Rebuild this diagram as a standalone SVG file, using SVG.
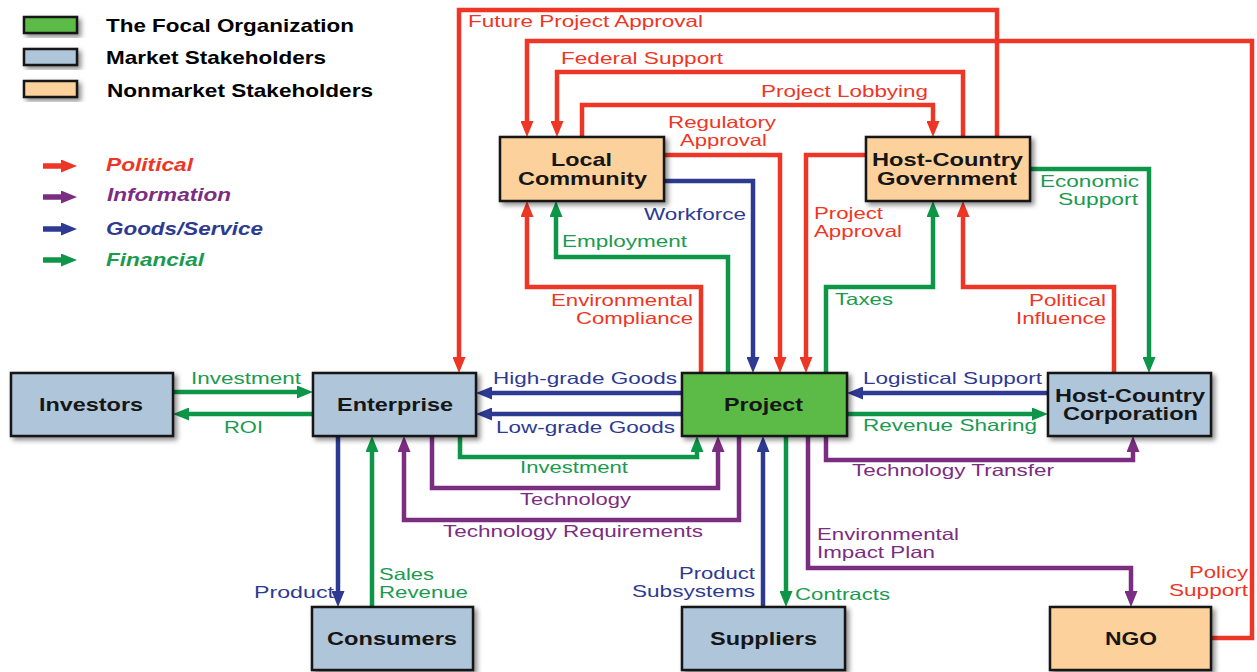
<svg xmlns="http://www.w3.org/2000/svg" width="1257" height="672" viewBox="0 0 1257 672">
<style>
.box{stroke:#151515;stroke-width:2.5;filter:url(#sh)}
.g{fill:#5CBB47}.b{fill:#AFC5DA}.o{fill:#FDD19B}
.c{fill:none;stroke-width:4.5;stroke-linejoin:miter}
.cr{stroke:#EE3626;marker-end:url(#ar)}
.cb{stroke:#2E3A92;marker-end:url(#ab)}
.cg{stroke:#0E9648;marker-end:url(#ag)}
.cp{stroke:#7B2D82;marker-end:url(#ap)}
text{font-family:"Liberation Sans",Arial,sans-serif}
.n{font-size:18.5px;font-weight:bold;fill:#161616}
.l{font-size:16.5px}
.tr{fill:#EE3626}.tb{fill:#2E3A92}.tg{fill:#1B9A50}.tp{fill:#7B2D82}
.lg{font-size:18.5px;font-weight:bold}
.li{font-style:italic}
</style>
<defs>
<filter id="sh" x="-20%" y="-20%" width="140%" height="150%">
<feDropShadow dx="3" dy="3" stdDeviation="2.5" flood-color="#000" flood-opacity="0.45"/>
</filter>
<marker id="ar" markerUnits="userSpaceOnUse" markerWidth="16" markerHeight="13" viewBox="0 0 16 13" refX="6" refY="6.5" orient="auto"><path d="M0,0 L16,6.5 L0,13 z" fill="#EE3626"/></marker>
<marker id="ab" markerUnits="userSpaceOnUse" markerWidth="16" markerHeight="13" viewBox="0 0 16 13" refX="6" refY="6.5" orient="auto"><path d="M0,0 L16,6.5 L0,13 z" fill="#2E3A92"/></marker>
<marker id="ag" markerUnits="userSpaceOnUse" markerWidth="16" markerHeight="13" viewBox="0 0 16 13" refX="6" refY="6.5" orient="auto"><path d="M0,0 L16,6.5 L0,13 z" fill="#0E9648"/></marker>
<marker id="ap" markerUnits="userSpaceOnUse" markerWidth="16" markerHeight="13" viewBox="0 0 16 13" refX="6" refY="6.5" orient="auto"><path d="M0,0 L16,6.5 L0,13 z" fill="#7B2D82"/></marker>
</defs>
<rect width="1257" height="672" fill="#fff"/>

<g id="legend">
<rect class="box g" x="24" y="17" width="53" height="16"/>
<rect class="box b" x="24" y="49" width="53" height="16"/>
<rect class="box o" x="24" y="81" width="53" height="16"/>
<text class="lg" x="106" y="32" textLength="248" lengthAdjust="spacingAndGlyphs">The Focal Organization</text>
<text class="lg" x="106" y="64" textLength="220" lengthAdjust="spacingAndGlyphs">Market Stakeholders</text>
<text class="lg" x="107" y="97" textLength="266" lengthAdjust="spacingAndGlyphs">Nonmarket Stakeholders</text>
<path class="c cr" style="stroke-width:5.5" d="M43,166 H67"/>
<path class="c cp" style="stroke-width:5.5" d="M43,197 H67"/>
<path class="c cb" style="stroke-width:5.5" d="M43,229 H67"/>
<path class="c cg" style="stroke-width:5.5" d="M43,260 H67"/>
<text class="lg li tr" x="106" y="171" textLength="87" lengthAdjust="spacingAndGlyphs">Political</text>
<text class="lg li tp" x="107" y="201" textLength="124" lengthAdjust="spacingAndGlyphs">Information</text>
<text class="lg li tb" x="106" y="235" textLength="157" lengthAdjust="spacingAndGlyphs">Goods/Service</text>
<text class="lg li tg" x="106" y="266" textLength="98" lengthAdjust="spacingAndGlyphs">Financial</text>
</g>

<g id="connectors">
<path class="c cr" d="M997,137 V10 H459 V363"/>
<path class="c cr" d="M1211,638 H1252 V41 H527 V127"/>
<path class="c cr" d="M963,137 V72 H557 V127"/>
<path class="c cr" d="M582,137 V105 H933 V127"/>
<path class="c cr" d="M664,155 H780 V363"/>
<path class="c cr" d="M866,155 H806 V363"/>
<path class="c cr" d="M701,373 V287 H527 V211"/>
<path class="c cr" d="M1114,373 V287 H963 V211"/>
<path class="c cb" d="M664,181 H753 V363"/>
<path class="c cb" d="M682,393 H486"/>
<path class="c cb" d="M682,414 H486"/>
<path class="c cb" d="M1048,393 H857"/>
<path class="c cb" d="M338,436 V597"/>
<path class="c cb" d="M763,607 V446"/>
<path class="c cg" d="M728,373 V257 H556 V211"/>
<path class="c cg" d="M826,373 V287 H933 V211"/>
<path class="c cg" d="M1030,169 H1149 V363"/>
<path class="c cg" d="M173,392 H303"/>
<path class="c cg" d="M313,414 H183"/>
<path class="c cg" d="M847,414 H1038"/>
<path class="c cg" d="M460,436 V457 H697 V446"/>
<path class="c cg" d="M372,607 V446"/>
<path class="c cg" d="M786,436 V597"/>
<path class="c cp" d="M826,436 V460 H1133 V446"/>
<path class="c cp" d="M432,436 V488 H718 V446"/>
<path class="c cp" d="M739,436 V520 H404 V446"/>
<path class="c cp" d="M808,436 V568 H1131 V597"/>

<text class="l tr" x="468" y="27" textLength="235" lengthAdjust="spacingAndGlyphs">Future Project Approval</text>
<text class="l tr" x="561" y="64" textLength="162" lengthAdjust="spacingAndGlyphs">Federal Support</text>
<text class="l tr" x="761" y="97" textLength="167" lengthAdjust="spacingAndGlyphs">Project Lobbying</text>
<text class="l tr" x="668" y="128" textLength="108" lengthAdjust="spacingAndGlyphs">Regulatory</text>
<text class="l tr" x="680" y="146" textLength="87" lengthAdjust="spacingAndGlyphs">Approval</text>
<text class="l tb" x="644" y="220" textLength="102" lengthAdjust="spacingAndGlyphs">Workforce</text>
<text class="l tr" x="814" y="219" textLength="69" lengthAdjust="spacingAndGlyphs">Project</text>
<text class="l tr" x="814" y="237" textLength="88" lengthAdjust="spacingAndGlyphs">Approval</text>
<text class="l tg" x="562" y="247" textLength="125" lengthAdjust="spacingAndGlyphs">Employment</text>
<text class="l tr" x="551" y="306" textLength="142" lengthAdjust="spacingAndGlyphs">Environmental</text>
<text class="l tr" x="576" y="324" textLength="117" lengthAdjust="spacingAndGlyphs">Compliance</text>
<text class="l tg" x="835" y="305" textLength="58" lengthAdjust="spacingAndGlyphs">Taxes</text>
<text class="l tr" x="1029" y="306" textLength="77" lengthAdjust="spacingAndGlyphs">Political</text>
<text class="l tr" x="1016" y="324" textLength="90" lengthAdjust="spacingAndGlyphs">Influence</text>
<text class="l tg" x="1040" y="187" textLength="99" lengthAdjust="spacingAndGlyphs">Economic</text>
<text class="l tg" x="1058" y="205" textLength="80" lengthAdjust="spacingAndGlyphs">Support</text>
<text class="l tg" x="191" y="384" textLength="110" lengthAdjust="spacingAndGlyphs">Investment</text>
<text class="l tg" x="224" y="433" textLength="39" lengthAdjust="spacingAndGlyphs">ROI</text>
<text class="l tb" x="493" y="384" textLength="184" lengthAdjust="spacingAndGlyphs">High-grade Goods</text>
<text class="l tb" x="496" y="433" textLength="179" lengthAdjust="spacingAndGlyphs">Low-grade Goods</text>
<text class="l tb" x="863" y="384" textLength="179" lengthAdjust="spacingAndGlyphs">Logistical Support</text>
<text class="l tg" x="863" y="431" textLength="174" lengthAdjust="spacingAndGlyphs">Revenue Sharing</text>
<text class="l tg" x="520" y="473" textLength="108" lengthAdjust="spacingAndGlyphs">Investment</text>
<text class="l tp" x="520" y="505" textLength="111" lengthAdjust="spacingAndGlyphs">Technology</text>
<text class="l tp" x="443" y="537" textLength="260" lengthAdjust="spacingAndGlyphs">Technology Requirements</text>
<text class="l tp" x="852" y="476" textLength="202" lengthAdjust="spacingAndGlyphs">Technology Transfer</text>
<text class="l tp" x="817" y="540" textLength="142" lengthAdjust="spacingAndGlyphs">Environmental</text>
<text class="l tp" x="817" y="558" textLength="118" lengthAdjust="spacingAndGlyphs">Impact Plan</text>
<text class="l tb" x="254" y="598" textLength="80" lengthAdjust="spacingAndGlyphs">Product</text>
<text class="l tg" x="379" y="580" textLength="55" lengthAdjust="spacingAndGlyphs">Sales</text>
<text class="l tg" x="379" y="598" textLength="89" lengthAdjust="spacingAndGlyphs">Revenue</text>
<text class="l tb" x="679" y="579" textLength="76" lengthAdjust="spacingAndGlyphs">Product</text>
<text class="l tb" x="632" y="597" textLength="123" lengthAdjust="spacingAndGlyphs">Subsystems</text>
<text class="l tg" x="795" y="600" textLength="95" lengthAdjust="spacingAndGlyphs">Contracts</text>
<text class="l tr" x="1189" y="578" textLength="59" lengthAdjust="spacingAndGlyphs">Policy</text>
<text class="l tr" x="1169" y="596" textLength="79" lengthAdjust="spacingAndGlyphs">Support</text>
</g>

<g id="local-community">
<rect class="box o" x="500" y="137" width="164" height="64"/>
<text class="n" x="551" y="166" textLength="61" lengthAdjust="spacingAndGlyphs">Local</text>
<text class="n" x="518" y="185" textLength="129" lengthAdjust="spacingAndGlyphs">Community</text>
</g>
<g id="host-country-government">
<rect class="box o" x="866" y="137" width="164" height="64"/>
<text class="n" x="872" y="166" textLength="151" lengthAdjust="spacingAndGlyphs">Host-Country</text>
<text class="n" x="877" y="185" textLength="140" lengthAdjust="spacingAndGlyphs">Government</text>
</g>
<g id="investors">
<rect class="box b" x="11" y="373" width="162" height="63"/>
<text class="n" x="39" y="411" textLength="104" lengthAdjust="spacingAndGlyphs">Investors</text>
</g>
<g id="enterprise">
<rect class="box b" x="313" y="373" width="163" height="63"/>
<text class="n" x="337" y="411" textLength="116" lengthAdjust="spacingAndGlyphs">Enterprise</text>
</g>
<g id="project">
<rect class="box g" x="682" y="373" width="165" height="63"/>
<text class="n" x="724" y="411" textLength="79" lengthAdjust="spacingAndGlyphs">Project</text>
</g>
<g id="host-country-corporation">
<rect class="box b" x="1048" y="373" width="163" height="63"/>
<text class="n" x="1055" y="402" textLength="150" lengthAdjust="spacingAndGlyphs">Host-Country</text>
<text class="n" x="1063" y="420" textLength="135" lengthAdjust="spacingAndGlyphs">Corporation</text>
</g>
<g id="consumers">
<rect class="box b" x="312" y="607" width="161" height="63"/>
<text class="n" x="327" y="645" textLength="130" lengthAdjust="spacingAndGlyphs">Consumers</text>
</g>
<g id="suppliers">
<rect class="box b" x="682" y="607" width="163" height="63"/>
<text class="n" x="710" y="645" textLength="107" lengthAdjust="spacingAndGlyphs">Suppliers</text>
</g>
<g id="ngo">
<rect class="box o" x="1050" y="607" width="161" height="63"/>
<text class="n" x="1105" y="645" textLength="52" lengthAdjust="spacingAndGlyphs">NGO</text>
</g>
</svg>
